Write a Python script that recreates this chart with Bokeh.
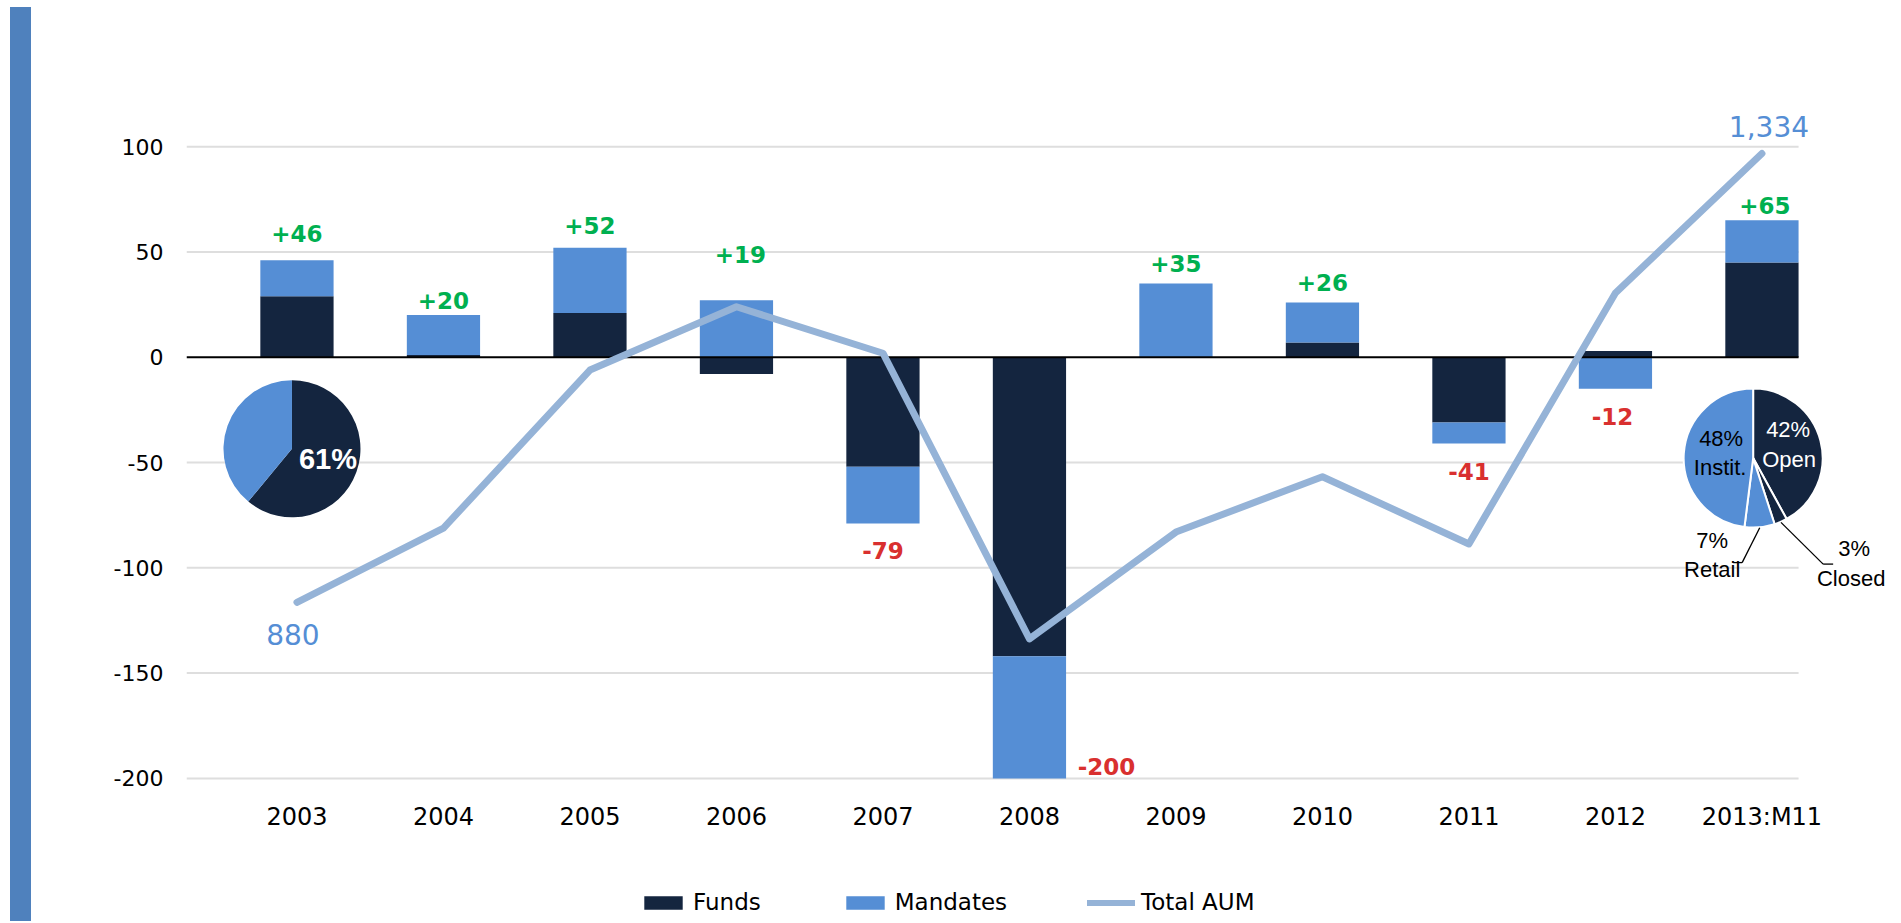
import math
from bokeh.plotting import figure
from bokeh.models import (ColumnDataSource, Range1d, FixedTicker, Legend, LegendItem, Div)
from bokeh.layouts import row, column
from bokeh.core.properties import value
from bokeh.embed import file_html
from bokeh.resources import INLINE

# ---------------- data ----------------
categories = ["2003", "2004", "2005", "2006", "2007", "2008", "2009", "2010", "2011", "2012", "2013:M11"]
funds = [29, 1, 21, -8, -52, -142, 0, 7, -31, 3, 45]
mandates = [17, 19, 31, 27, -27, -58, 35, 19, -10, -15, 20]
total_flows = [46, 20, 52, 19, -79, -200, 35, 26, -41, -12, 65]
total_aum = [880, 955, 1115, 1179, 1132, 843, 951, 1007, 939, 1193, 1334]
y_ticks = [-200, -150, -100, -50, 0, 50, 100]

pie_2003_labels = ["Funds", "Mandates"]
pie_2003_shares = [61, 39]
pie_2013_labels = ["Open", "Closed", "Retail", "Instit."]
pie_2013_shares = [42, 3, 7, 48]

# ---------------- style / layout ----------------
DARK = "#14253F"
LIGHT = "#558ED5"
LINE = "#95B3D7"
ACCENT = "#4F81BD"
GREEN = "#00B050"
RED = "#D9302F"
GRID = "#DEDEDE"
AUM_TXT = "#558ED5"

W = 1868            # main figure width (page x 31 .. 1899)
H1 = 869            # main figure height (page y 0 .. 869)
H2 = 52             # legend strip height (page y 869 .. 921)
ML = 155
FRAME_H = 792
MB = H1 - FRAME_H
X0, X1 = -0.754, 10.939
Y0, Y1 = -206.7, 169.4
PX_X = (W - ML) / (X1 - X0)
PX_Y = FRAME_H / (Y1 - Y0)
BAR_W = 0.5

# label nudges (screen px) for the flow totals
label_dx = [0, 0, 0, 4, 0, 77, 0, 0, 0, -3, 3]
label_dy = [-27, -15, -22, -46, 27, -12, -20, -20, 28, 28, -15]

n = len(categories)
xs = list(range(n))

# stacked bars (positives up, negatives down)
f_bot, f_top, m_bot, m_top, pos_end, neg_end = [], [], [], [], [], []
for f, m in zip(funds, mandates):
    pos, neg = 0, 0
    if f >= 0:
        f_bot.append(pos); f_top.append(pos + f); pos += f
    else:
        f_bot.append(neg); f_top.append(neg + f); neg += f
    if m >= 0:
        m_bot.append(pos); m_top.append(pos + m); pos += m
    else:
        m_bot.append(neg); m_top.append(neg + m); neg += m
    pos_end.append(pos); neg_end.append(neg)

p = figure(width=W, height=H1, x_range=Range1d(X0, X1), y_range=Range1d(Y0, Y1),
           output_backend="svg", toolbar_location=None,
           min_border_left=ML, min_border_right=0, min_border_top=0, min_border_bottom=MB,
           outline_line_color=None, background_fill_color="white", border_fill_color="white")
p.extra_y_ranges = {"aum": Range1d(687.5, 1488.9)}
p.xgrid.visible = False
p.ygrid.visible = False

# axes
xa = p.xaxis[0]
xa.ticker = FixedTicker(ticks=xs)
xa.major_label_overrides = {i: c for i, c in enumerate(categories)}
xa.axis_line_color = None
xa.major_tick_line_color = None
xa.minor_tick_line_color = None
xa.major_label_standoff = 4
xa.major_label_text_font = "DejaVu Sans"
xa.major_label_text_font_size = "24px"
xa.major_label_text_color = "black"

ya = p.yaxis[0]
ya.ticker = FixedTicker(ticks=y_ticks)
ya.major_label_overrides = {t: str(t) for t in y_ticks}
ya.axis_line_color = None
ya.major_tick_line_color = None
ya.minor_tick_line_color = None
ya.major_label_standoff = 17
ya.major_label_text_font = "DejaVu Sans"
ya.major_label_text_font_size = "22px"
ya.major_label_text_color = "black"

# gridlines (end at right edge of last bar)
gx0 = X0
gx1 = (n - 1) + BAR_W / 2
gy = [t for t in y_ticks if t != 0]
p.segment(x0=[gx0] * len(gy), y0=gy, x1=[gx1] * len(gy), y1=gy, line_color=GRID, line_width=2)

# bars
src = ColumnDataSource(dict(x=xs, fb=f_bot, ft=f_top, mb=m_bot, mt=m_top))
p.vbar(x="x", bottom="fb", top="ft", width=BAR_W, source=src, fill_color=DARK, line_color=None)
p.vbar(x="x", bottom="mb", top="mt", width=BAR_W, source=src, fill_color=LIGHT, line_color=None)

# zero line
p.segment(x0=[gx0], y0=[0], x1=[gx1], y1=[0], line_color="black", line_width=2)

# total AUM line
p.line(x=xs, y=total_aum, y_range_name="aum", line_color=LINE, line_width=7,
       line_join="round", line_cap="round")

# flow total labels
lab_y = [pe if t > 0 else ne for t, pe, ne in zip(total_flows, pos_end, neg_end)]
lab_txt = [("+%d" % t) if t > 0 else ("-%d" % abs(t)) for t in total_flows]
lab_col = [GREEN if t > 0 else RED for t in total_flows]
lsrc = ColumnDataSource(dict(x=xs, y=lab_y, t=lab_txt, c=lab_col, xo=label_dx, yo=label_dy))
p.text(x="x", y="y", text="t", source=lsrc, text_color="c", x_offset="xo", y_offset="yo",
       text_align="center", text_baseline="middle", text_font=value("DejaVu Sans"),
       text_font_size="23px", text_font_style="bold")

# AUM end labels
p.text(x=[xs[0]], y=[total_aum[0]], text=["{:,}".format(total_aum[0])], y_range_name="aum",
       x_offset=-4, y_offset=32, text_align="center", text_baseline="middle",
       text_font=value("DejaVu Sans"), text_font_size="28px", text_color=AUM_TXT)
p.text(x=[xs[-1]], y=[total_aum[-1]], text=["{:,}".format(total_aum[-1])], y_range_name="aum",
       x_offset=7, y_offset=-27, text_align="center", text_baseline="middle",
       text_font=value("DejaVu Sans"), text_font_size="28px", text_color=AUM_TXT)

# pies
R = 69.5

def pie_angles(shares):
    starts, ends = [], []
    a = 90.0
    for s in shares:
        starts.append(math.radians(a))
        a -= s * 3.6
        ends.append(math.radians(a))
    return starts, ends

PL = (-0.034, -43.5)
PR = (9.94, -47.9)

s1, e1 = pie_angles(pie_2003_shares)
p.wedge(x=[PL[0]] * 2, y=[PL[1]] * 2, radius=R - 1, radius_units="screen", start_angle=s1, end_angle=e1,
        direction="clock", fill_color=[DARK, LIGHT], line_color=None)
p.text(x=[PL[0]], y=[PL[1]], text=["%d%%" % pie_2003_shares[0]], x_offset=36, y_offset=10,
       text_align="center", text_baseline="middle", text_font=value("Liberation Sans"),
       text_font_size="29px", text_font_style="bold", text_color="white")

s2, e2 = pie_angles(pie_2013_shares)
p.wedge(x=[PR[0]] * 4, y=[PR[1]] * 4, radius=R, radius_units="screen", start_angle=s2, end_angle=e2,
        direction="clock", fill_color=[DARK, DARK, LIGHT, LIGHT], line_color="white", line_width=2)

def off(dx, dy):
    return PR[0] + dx / PX_X, PR[1] - dy / PX_Y

# leader lines for small slices (Closed, Retail)
cum = 0
mid = []
for s in pie_2013_shares:
    mid.append(math.radians((cum + s / 2) * 3.6))
    cum += s
lead_x0, lead_y0, lead_x1, lead_y1 = [], [], [], []
for idx, (ex, ey, hx) in zip([1, 2], [(70, 106, 80), (-11, 104.5, -20)]):
    a = mid[idx]
    sx, sy = off(70 * math.sin(a), -70 * math.cos(a))
    mx, my = off(ex, ey)
    tx, ty = off(hx, ey)
    lead_x0 += [sx, mx]; lead_y0 += [sy, my]; lead_x1 += [mx, tx]; lead_y1 += [my, ty]
p.segment(x0=lead_x0, y0=lead_y0, x1=lead_x1, y1=lead_y1, line_color="black", line_width=1.3)

pct = ["%d%%" % s for s in pie_2013_shares]
txt = [pct[0], pie_2013_labels[0], pct[3], pie_2013_labels[3], pct[2], pie_2013_labels[2],
       pct[1], pie_2013_labels[1]]
tdx = [35, 36, -32, -33, -41, -41, 101, 98]
tdy = [-29, 1, -20, 9, 82, 111, 90, 120]
tcol = ["white", "white", "black", "black", "black", "black", "black", "black"]
p.text(x=[PR[0]] * 8, y=[PR[1]] * 8, text=txt, x_offset=tdx, y_offset=tdy, text_color=tcol,
       text_align="center", text_baseline="middle", text_font=value("Liberation Sans"),
       text_font_size="22px")

# ---------------- legend strip ----------------
lf = figure(width=W, height=H2, x_range=Range1d(0, 1), y_range=Range1d(0, 1),
            x_axis_type=None, y_axis_type=None, output_backend="svg", toolbar_location=None,
            min_border_left=ML, min_border_right=0, min_border_top=0, min_border_bottom=0,
            outline_line_color=None, background_fill_color="white", border_fill_color="white")
# legend proxies kept outside the strip's visible range
dsrc = ColumnDataSource(dict(x=[5, 6], y=[5, 6]))
g1 = lf.vbar(x="x", top="y", width=0.1, source=dsrc, fill_color=DARK, line_color=None)
g2 = lf.vbar(x="x", top="y", width=0.1, source=dsrc, fill_color=LIGHT, line_color=None)
g3 = lf.line(x="x", y="y", source=dsrc, line_color=LINE, line_width=6, line_cap="round")
legend = Legend(items=[LegendItem(label="Funds", renderers=[g1]),
                       LegendItem(label="Mandates", renderers=[g2]),
                       LegendItem(label="Total AUM", renderers=[g3])],
                orientation="horizontal", location=(453, 6), glyph_width=48, glyph_height=17,
                label_text_font="DejaVu Sans", label_text_font_size="23px",
                label_text_color="black", spacing=80,
                label_standoff=6, padding=0, margin=0, border_line_color=None,
                background_fill_alpha=0)
lf.add_layout(legend, "center")

acc = Div(text="", width=21, height=914, margin=(7, 0, 0, 10),
          styles={"background-color": ACCENT})

layout = row(acc, column(p, lf))
open("out.html", "w").write(file_html(layout, INLINE))
